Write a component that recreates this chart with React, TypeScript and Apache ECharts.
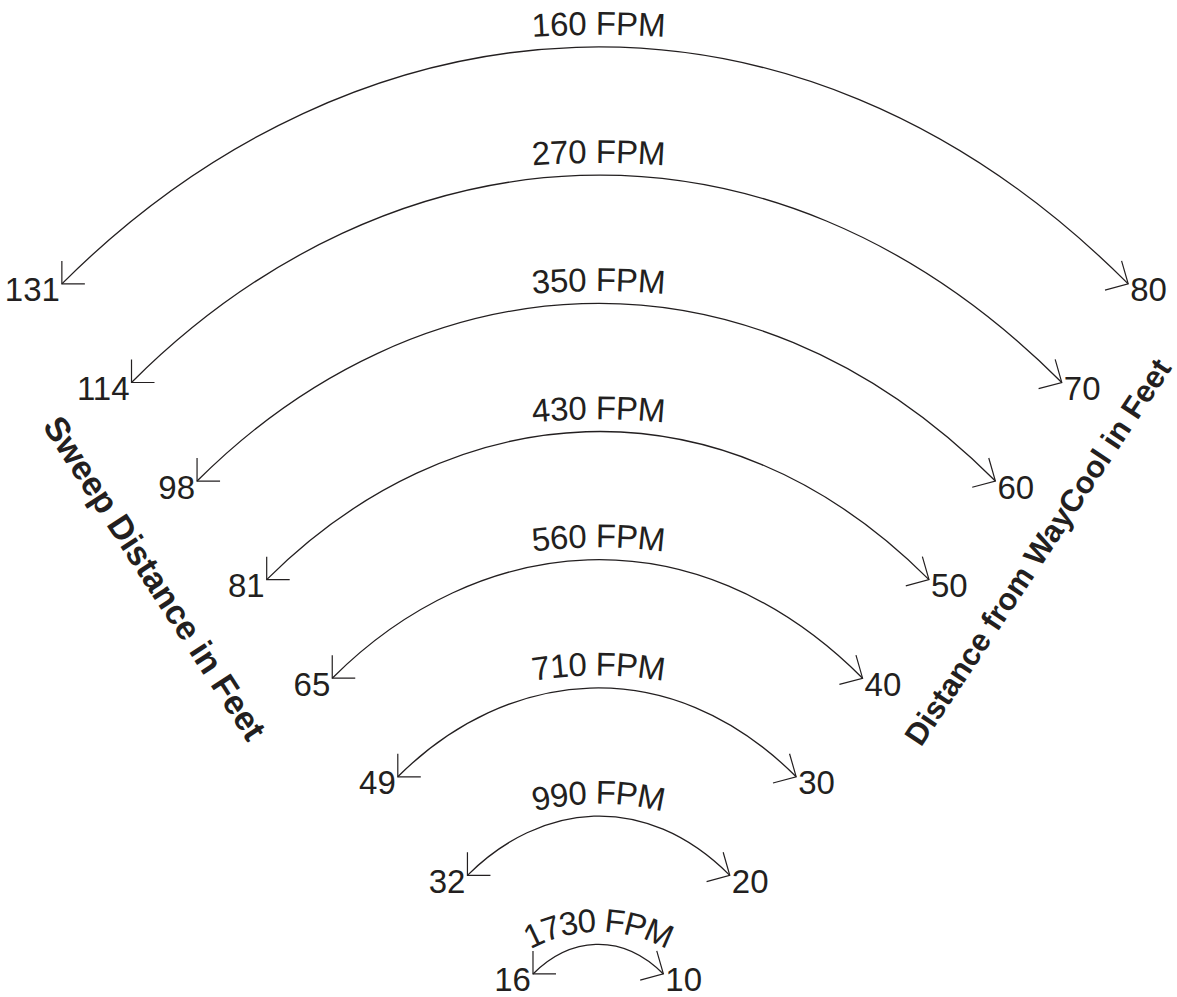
import React, { useEffect, useRef } from 'react';
import * as echarts from 'echarts';

// ---- data ----
const fpmLabels = ['160 FPM', '270 FPM', '350 FPM', '430 FPM', '560 FPM', '710 FPM', '990 FPM', '1730 FPM'];
const sweepFeet = [131, 114, 98, 81, 65, 49, 32, 16];
const distanceFeet = [80, 70, 60, 50, 40, 30, 20, 10];
const leftAxisTitle = 'Sweep Distance in Feet';
const rightAxisTitle = 'Distance from WayCool in Feet';

// ---- layout / style constants ----
const W = 1177;
const H = 997;
const INK = '#231f20';
const FAMILY = '"Liberation Sans", Arial, Helvetica, sans-serif';
const LABEL_SIZE = 33;
const LEFT_TITLE_SIZE = 34;
const RIGHT_TITLE_SIZE = 31;
const ARC_RISE = 1.3; // apex height as multiple of end height (distance units)
const TEXT_GAP = 24; // px from arc apex to middle of label glyphs
const SKEW = 0.08;
const BARB = 23;

let measureCtx: CanvasRenderingContext2D | null = null;
function textWidth(t: string, font: string): number {
  if (!measureCtx) {
    const c = document.createElement('canvas');
    measureCtx = c.getContext('2d');
  }
  if (!measureCtx) return t.length * LABEL_SIZE * 0.55;
  measureCtx.font = font;
  return measureCtx.measureText(t).width;
}

export default function App() {
  const ref = useRef<HTMLDivElement>(null);

  useEffect(() => {
    if (!ref.current) return;
    const chart = echarts.init(ref.current, null, { renderer: 'svg', width: W, height: H });
    const labelFont = `${LABEL_SIZE}px ${FAMILY}`;

    const RIGHT_MIN = -89.9;
    const RIGHT_MAX = 87.35;

    const data = sweepFeet.map((s, i) => [s, distanceFeet[i], i]);

    const renderItem = (params: any, api: any) => {
      const s = api.value(0);
      const d = api.value(1);
      const idx = api.value(2);
      const L = api.coord([s, d]);
      let rx: any = NaN;
      try {
        rx = chart.convertToPixel({ xAxisIndex: 1 } as any, d);
      } catch (e) {
        rx = NaN;
      }
      if (typeof rx !== 'number' || !isFinite(rx)) {
        const cs = params.coordSys;
        rx = cs.x + ((d - RIGHT_MIN) / (RIGHT_MAX - RIGHT_MIN)) * cs.width;
      }
      const R = [rx, L[1]];
      const O = api.coord([0, 0]);
      const apexY = api.coord([0, ARC_RISE * d])[1];
      const endY = (L[1] + R[1]) / 2;
      const h = (endY - apexY) / 0.75;
      const h1 = h * (1 - SKEW);
      const h2 = h * (1 + SKEW);

      const children: any[] = [];
      children.push({
        type: 'bezierCurve',
        shape: {
          x1: L[0], y1: L[1],
          cpx1: L[0] + h1, cpy1: L[1] - h1,
          cpx2: R[0] - h2, cpy2: R[1] - h2,
          x2: R[0], y2: R[1],
        },
        style: { stroke: INK, lineWidth: 1.3, fill: null },
      });
      children.push({
        type: 'polyline',
        shape: { points: [[L[0], L[1] - BARB], [L[0], L[1]], [L[0] + BARB, L[1]]] },
        style: { stroke: INK, lineWidth: 1.2, fill: null },
      });
      const a1 = (74 * Math.PI) / 180;
      const a2 = (15 * Math.PI) / 180;
      const bl = BARB + 1;
      children.push({
        type: 'polyline',
        shape: {
          points: [
            [R[0] - bl * Math.cos(a1), R[1] - bl * Math.sin(a1)],
            [R[0], R[1]],
            [R[0] - bl * Math.cos(a2), R[1] + bl * Math.sin(a2)],
          ],
        },
        style: { stroke: INK, lineWidth: 1.2, fill: null },
      });
      children.push({
        type: 'text',
        x: L[0] - 2,
        y: L[1] + 6,
        style: { text: String(s), fill: INK, font: labelFont, align: 'right', verticalAlign: 'middle' },
      });
      children.push({
        type: 'text',
        x: R[0] + 2,
        y: R[1] + 6,
        style: { text: String(d), fill: INK, font: labelFont, align: 'left', verticalAlign: 'middle' },
      });

      // curved FPM label, on a circle centred at the common origin
      const label = fpmLabels[idx];
      const Rm = O[1] - apexY + TEXT_GAP;
      const total = textWidth(label, labelFont);
      let acc = 0;
      for (const ch of label) {
        const w = textWidth(ch, labelFont);
        const c = acc + w / 2 - total / 2;
        acc += w;
        if (ch === ' ') continue;
        const th = c / Rm;
        children.push({
          type: 'text',
          x: O[0] + Rm * Math.sin(th),
          y: O[1] - Rm * Math.cos(th),
          rotation: -th,
          style: { text: ch, fill: INK, font: labelFont, align: 'center', verticalAlign: 'middle' },
        });
      }
      return { type: 'group', children };
    };

    const option: any = {
      animation: false,
      backgroundColor: '#ffffff',
      grid: { left: 0, right: 0, top: 0, bottom: 0, containLabel: false },
      xAxis: [
        { type: 'value', gridIndex: 0, min: -141.2, max: 146.1, inverse: true, show: false },
        { type: 'value', gridIndex: 0, min: RIGHT_MIN, max: RIGHT_MAX, show: false, position: 'top' },
      ],
      yAxis: [{ type: 'value', min: 7.66, max: 108.8, show: false }],
      series: [
        {
          type: 'custom',
          xAxisIndex: 0,
          yAxisIndex: 0,
          clip: false,
          silent: true,
          encode: { x: 0, y: 1 },
          data,
          renderItem,
        },
      ],
      graphic: [
        {
          type: 'text',
          x: 155,
          y: 578,
          rotation: (-57 * Math.PI) / 180,
          style: {
            text: leftAxisTitle,
            fill: INK,
            font: `bold ${LEFT_TITLE_SIZE}px ${FAMILY}`,
            align: 'center',
            verticalAlign: 'middle',
          },
        },
        {
          type: 'text',
          x: 1038,
          y: 552,
          rotation: (56.5 * Math.PI) / 180,
          style: {
            text: rightAxisTitle,
            fill: INK,
            font: `bold ${RIGHT_TITLE_SIZE}px ${FAMILY}`,
            align: 'center',
            verticalAlign: 'middle',
          },
        },
      ],
    };
    chart.setOption(option);
    return () => chart.dispose();
  }, []);

  return (
    <div
      ref={ref}
      style={{ position: 'fixed', left: 0, top: 0, width: W, height: H, background: '#fff' }}
    />
  );
}
